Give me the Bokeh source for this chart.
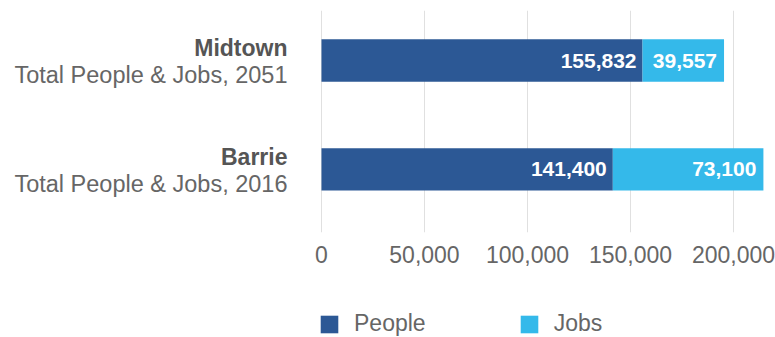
from bokeh.plotting import figure
from bokeh.layouts import column
from bokeh.models import ColumnDataSource, Range1d, LabelSet, Legend, LegendItem, NumeralTickFormatter, FixedTicker
from bokeh.core.properties import value
from bokeh.embed import file_html
from bokeh.resources import INLINE

# Data
names = ["Midtown", "Barrie"]
subtitles = ["Total People & Jobs, 2051", "Total People & Jobs, 2016"]
people = [155832, 141400]
jobs = [39557, 73100]
x_ticks = [0, 50000, 100000, 150000, 200000]
series = ["People", "Jobs"]

FONT = value("Liberation Sans")
DARK = "#2c5895"
LIGHT = "#34b9ea"

ypos = [len(names) - 1 - i for i in range(len(names))]
totals = [p + j for p, j in zip(people, jobs)]
src = ColumnDataSource(dict(
    y=ypos, name=names, sub=subtitles, people=people, jobs=jobs, total=totals,
    zero=[0] * len(names),
    plab=[f"{v:,}" for v in people], jlab=[f"{v:,}" for v in jobs],
))

p = figure(width=775, height=290, output_backend="svg", toolbar_location=None,
           x_range=Range1d(-155800, 216000), y_range=Range1d(-0.58, 1.46),
           min_border_left=0, min_border_right=9, min_border_top=10, min_border_bottom=58)
p.outline_line_color = None
p.background_fill_color = "white"
p.border_fill_color = "white"

bh = 0.39
r1 = p.hbar(y="y", left="zero", right="people", height=bh, source=src, fill_color=DARK, line_color=None)
r2 = p.hbar(y="y", left="people", right="total", height=bh, source=src, fill_color=LIGHT, line_color=None)

p.add_layout(LabelSet(x="people", y="y", text="plab", source=src, x_offset=-6, y_offset=0,
                      text_align="right", text_baseline="middle", text_color="white",
                      text_font=FONT, text_font_style="bold", text_font_size="21px"))
p.add_layout(LabelSet(x="total", y="y", text="jlab", source=src, x_offset=-7, y_offset=0,
                      text_align="right", text_baseline="middle", text_color="white",
                      text_font=FONT, text_font_style="bold", text_font_size="21px"))

p.add_layout(LabelSet(x="zero", y="y", text="name", source=src, x_offset=-34, y_offset=4.5,
                      text_align="right", text_baseline="alphabetic", text_color="#555555",
                      text_font=FONT, text_font_style="bold", text_font_size="23px"))
p.add_layout(LabelSet(x="zero", y="y", text="sub", source=src, x_offset=-34, y_offset=-22.5,
                      text_align="right", text_baseline="alphabetic", text_color="#666666",
                      text_font=FONT, text_font_size="23.5px"))

p.yaxis.visible = False
p.ygrid.grid_line_color = None
p.xgrid.grid_line_color = "#e0e0e0"
p.xgrid.grid_line_width = 1
p.xaxis.ticker = FixedTicker(ticks=x_ticks)
p.xgrid.ticker = FixedTicker(ticks=x_ticks)
p.xaxis.formatter = NumeralTickFormatter(format="0,0")
p.xaxis.axis_line_color = None
p.xaxis.major_tick_line_color = None
p.xaxis.minor_tick_line_color = None
p.xaxis.major_tick_out = 0
p.xaxis.major_label_standoff = 13
p.xaxis.major_label_text_font = "Liberation Sans"
p.xaxis.major_label_text_font_size = "23px"
p.xaxis.major_label_text_color = "#666666"

# legend strip (its bars lie outside its visible range; only the legend shows)
lg = figure(width=775, height=47, output_backend="svg", toolbar_location=None,
            x_range=Range1d(0, 1), y_range=Range1d(10, 11),
            min_border_left=0, min_border_right=0, min_border_top=0, min_border_bottom=0)
lg.axis.visible = False
lg.grid.visible = False
lg.outline_line_color = None
d1 = lg.hbar(y="y", left="zero", right="people", height=bh, source=src, fill_color=DARK, line_color=None)
d2 = lg.hbar(y="y", left="people", right="total", height=bh, source=src, fill_color=LIGHT, line_color=None)
legend = Legend(items=[LegendItem(label=series[0], renderers=[d1]),
                       LegendItem(label=series[1], renderers=[d2])],
                orientation="horizontal", location=(318, 0),
                glyph_width=22, glyph_height=22, label_standoff=14, spacing=92,
                label_text_font="Liberation Sans", label_text_font_size="23px", label_text_color="#666666",
                background_fill_alpha=0, border_line_color=None, padding=0, margin=0)
lg.add_layout(legend, "center")

open("out.html", "w").write(file_html(column(p, lg, spacing=0), INLINE))
